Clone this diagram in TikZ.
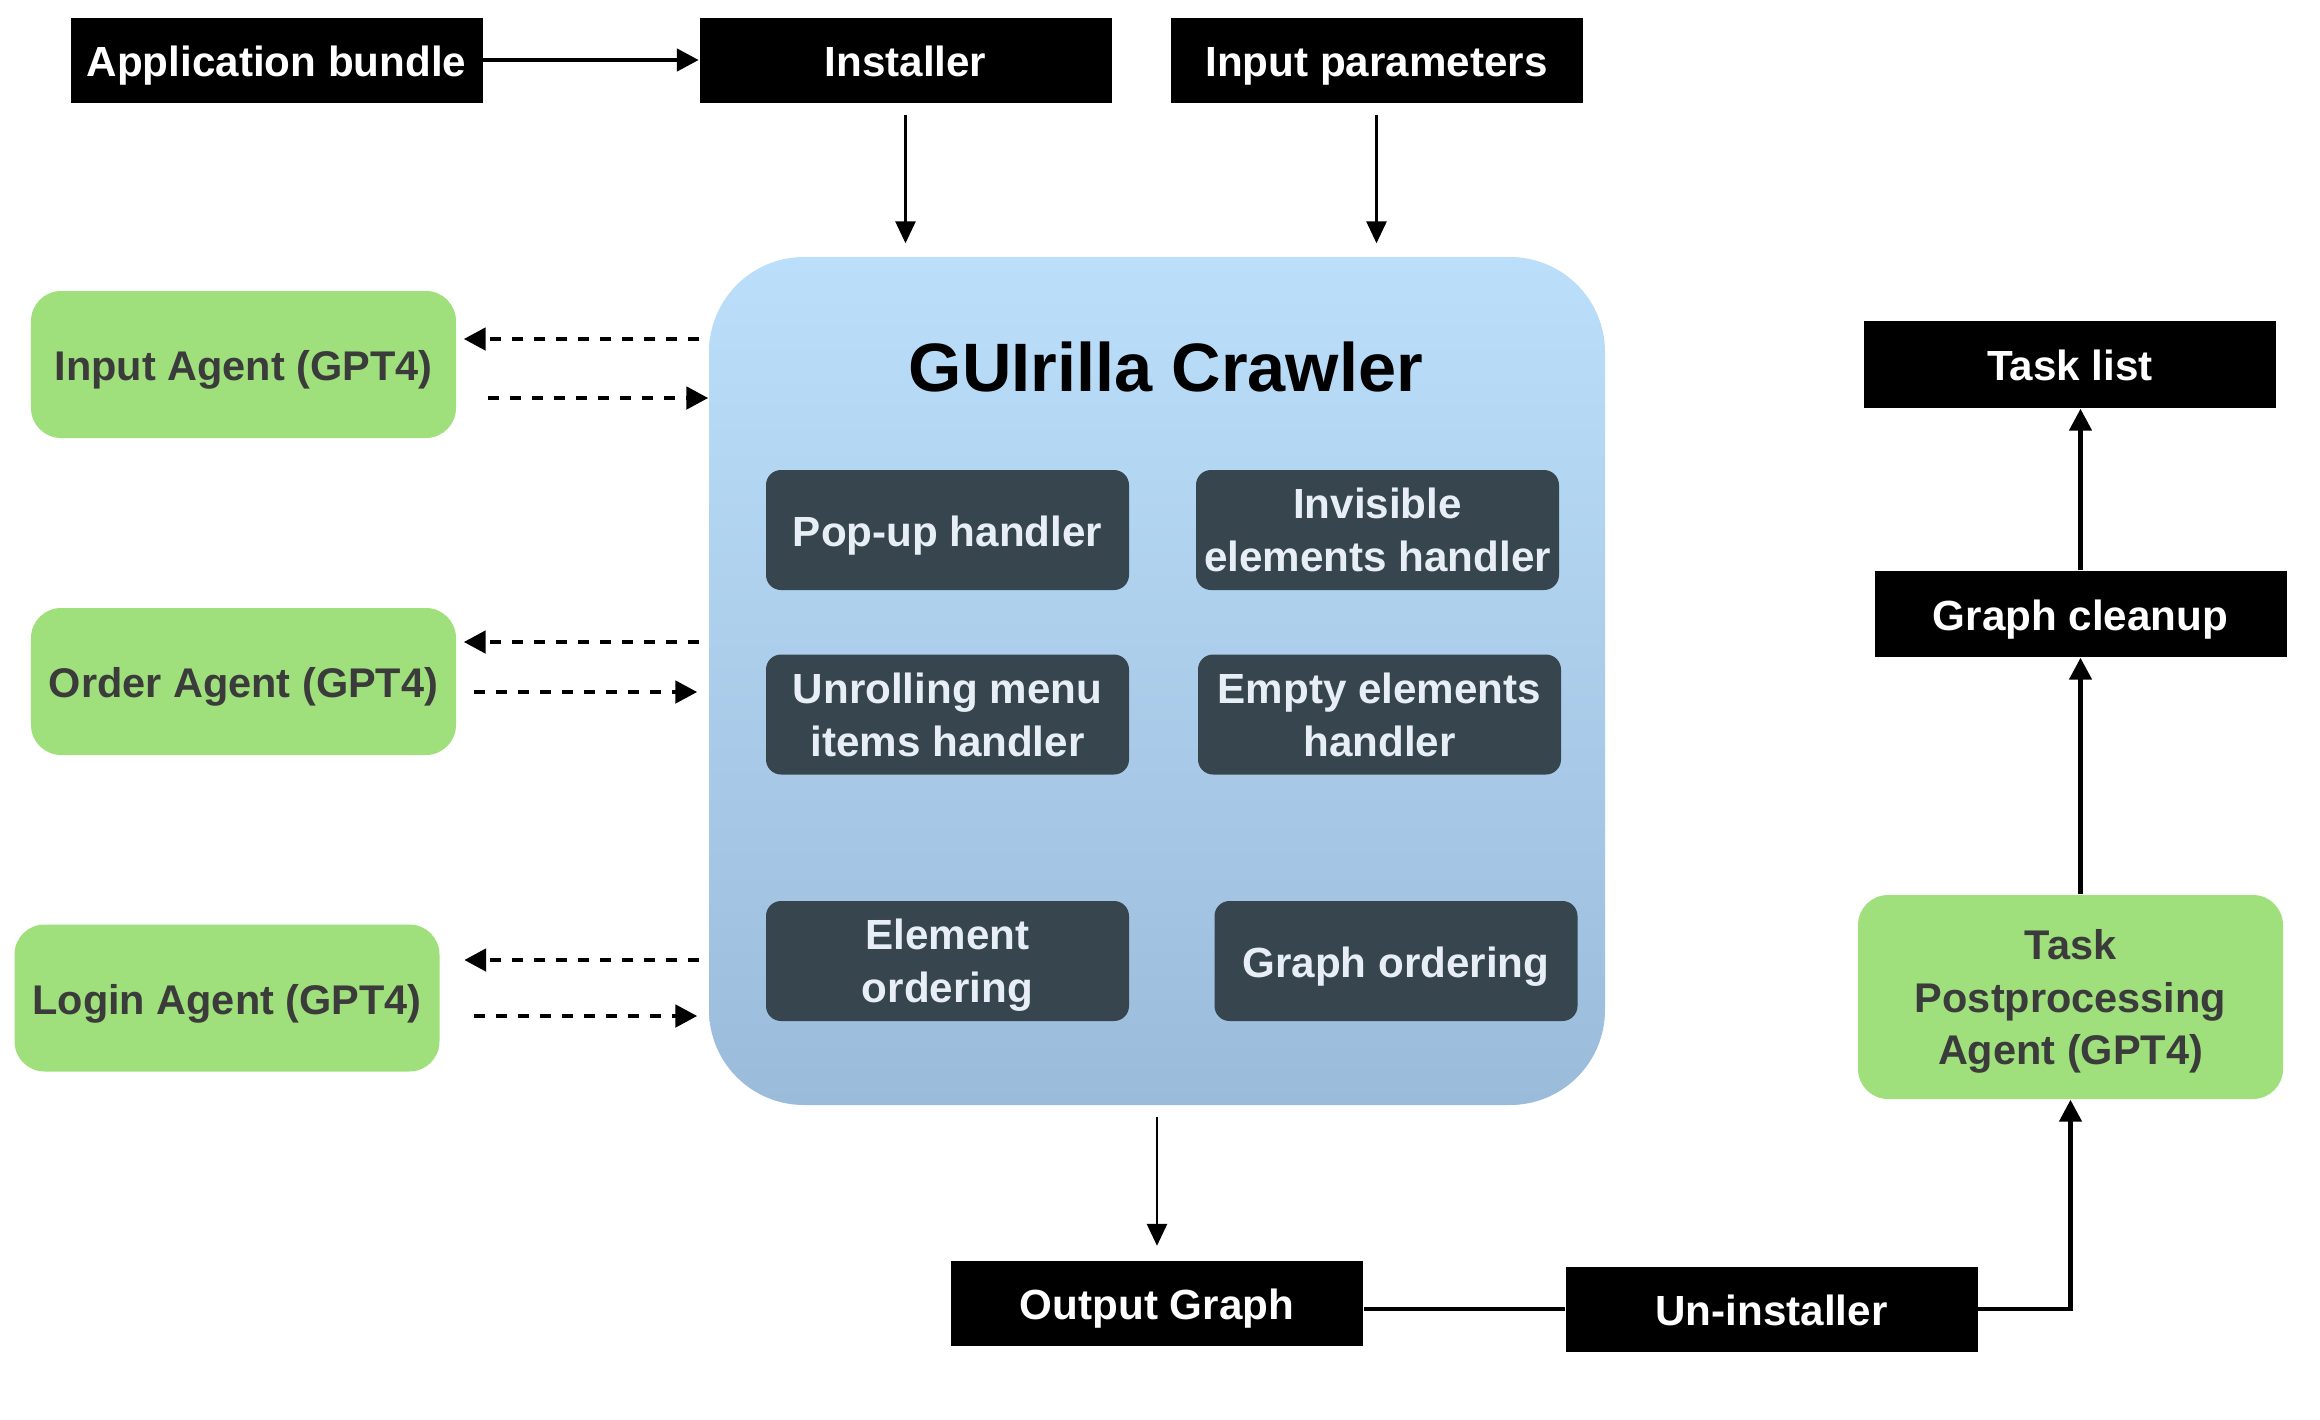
\documentclass[tikz,border=0pt]{standalone}
\usepackage{fontspec}
\setmainfont{Liberation Sans}
\usepackage{tikz}
\usetikzlibrary{
  arrows.meta,
  calc,
  positioning
}
\definecolor{agentgreen}{RGB}{159,224,124}
\definecolor{agenttext}{RGB}{59,59,59}
\definecolor{handlerfill}{RGB}{55,69,79}
\definecolor{handlertext}{RGB}{232,238,245}
\definecolor{crawlertop}{RGB}{187,223,250}
\definecolor{crawlerbot}{RGB}{155,187,219}

\begin{document}
\begin{tikzpicture}[
  oneline/.style={text height=0.98em, text depth=0.06em},
  twoline/.style={text depth=0pt},
  blackbox/.style={fill=black, text=white, minimum width=4.12cm, minimum height=0.85cm,
    inner sep=0pt, oneline, font=\fontsize{12}{14}\selectfont\bfseries},
  agentbox/.style={fill=agentgreen, text=agenttext, rounded corners=0.3cm,
    minimum width=4.25cm, minimum height=1.47cm, inner sep=0pt, align=center,
    font=\fontsize{11.8}{15}\selectfont\bfseries},
  handler/.style={fill=handlerfill, text=handlertext, rounded corners=0.15cm,
    minimum width=3.63cm, minimum height=1.2cm, inner sep=0pt, align=center,
    font=\fontsize{12}{15}\selectfont\bfseries},
  flow/.style={-{Triangle[length=0.22cm,width=0.22cm]}, line width=1.35pt},
  thinflow/.style={-{Triangle[length=0.22cm,width=0.2cm]}, line width=0.8pt},
  dashflow/.style={-{Triangle[length=0.22cm,width=0.22cm]}, line width=1.4pt,
    dash pattern=on 0.11cm off 0.11cm}
]
  \useasboundingbox (0,0) rectangle (23.2,-14.2);
  % Inputs
  \node[blackbox] (appbundle) at (2.765,-0.60) {Application bundle};
  \node[blackbox] (installer) at (9.055,-0.60) {Installer};
  \node[blackbox] (params) at (13.765,-0.60) {Input parameters};
  % Crawler
  \node[rounded corners=0.95cm, top color=crawlertop, bottom color=crawlerbot,
    minimum width=8.96cm, minimum height=8.48cm] (crawler) at (11.57,-6.81) {};
  \node[font=\fontsize{19.5}{22}\selectfont\bfseries] (title) at (11.66,-3.67) {GUIrilla Crawler};
  \node[handler, oneline] (popup) at (9.475,-5.30) {Pop-up handler};
  \node[handler, twoline] (invisible) at (13.775,-5.30) {Invisible\\elements handler};
  \node[handler, twoline] (unrolling) at (9.475,-7.145) {Unrolling menu\\items handler};
  \node[handler, twoline] (empty) at (13.795,-7.145) {Empty elements\\handler};
  \node[handler, twoline] (elemorder) at (9.475,-9.61) {Element\\ordering};
  \node[handler, oneline] (graphorder) at (13.96,-9.61) {Graph ordering};
  % Agents
  \node[agentbox, oneline] (inputagent) at (2.435,-3.645) {Input Agent (GPT4)};
  \node[agentbox, oneline] (orderagent) at (2.435,-6.815) {Order Agent (GPT4)};
  \node[agentbox, oneline] (loginagent) at (2.27,-9.98) {Login Agent (GPT4)};
  \node[agentbox, twoline, minimum height=2.04cm] (postagent) at (20.705,-9.97) {Task\\Postprocessing\\Agent (GPT4)};
  % Outputs
  \node[blackbox] (outgraph) at (11.57,-13.03) {Output Graph};
  \node[blackbox] (uninstaller) at (17.715,-13.09) {Un-installer};
  \node[blackbox, minimum height=0.87cm] (tasklist) at (20.70,-3.645) {Task list};
  \node[blackbox, minimum height=0.86cm] (cleanup) at (20.805,-6.14) {Graph cleanup};
  % Arrows
  \draw[flow] (appbundle) -- (installer);
  \draw[thinflow, shorten <=0.12cm, shorten >=0.13cm] (installer.south) -- (installer.south |- crawler.north);
  \draw[thinflow, shorten <=0.12cm, shorten >=0.13cm] (params.south) -- (params.south |- crawler.north);
  \draw[dashflow, shorten <=0.09cm, shorten >=0.07cm] ([yshift=0.255cm]inputagent.east -| crawler.west) -- ([yshift=0.255cm]inputagent.east);
  \draw[dashflow, shorten <=0.31cm] ([yshift=-0.335cm]inputagent.east) -- ([yshift=-0.335cm]inputagent.east -| crawler.west);
  \draw[dashflow, shorten <=0.09cm, shorten >=0.07cm] ([yshift=0.395cm]orderagent.east -| crawler.west) -- ([yshift=0.395cm]orderagent.east);
  \draw[dashflow, shorten <=0.17cm, shorten >=0.11cm] ([yshift=-0.105cm]orderagent.east) -- ([yshift=-0.105cm]orderagent.east -| crawler.west);
  \draw[dashflow, shorten <=0.09cm, shorten >=0.24cm] ([yshift=0.38cm]loginagent.east -| crawler.west) -- ([yshift=0.38cm]loginagent.east);
  \draw[dashflow, shorten <=0.34cm, shorten >=0.11cm] ([yshift=-0.18cm]loginagent.east) -- ([yshift=-0.18cm]loginagent.east -| crawler.west);
  \draw[thinflow, shorten <=0.11cm, shorten >=0.14cm] (crawler.south) -- (outgraph.north);
  \draw[line width=1.4pt] (outgraph.east |- uninstaller) -- (uninstaller.west);
  \draw[flow] (uninstaller.east) -| (postagent.south);
  \draw[flow] (postagent.north -| cleanup) -- (cleanup.south);
  \draw[flow] (cleanup.north) -- (cleanup.north |- tasklist.south);
\end{tikzpicture}
\end{document}
